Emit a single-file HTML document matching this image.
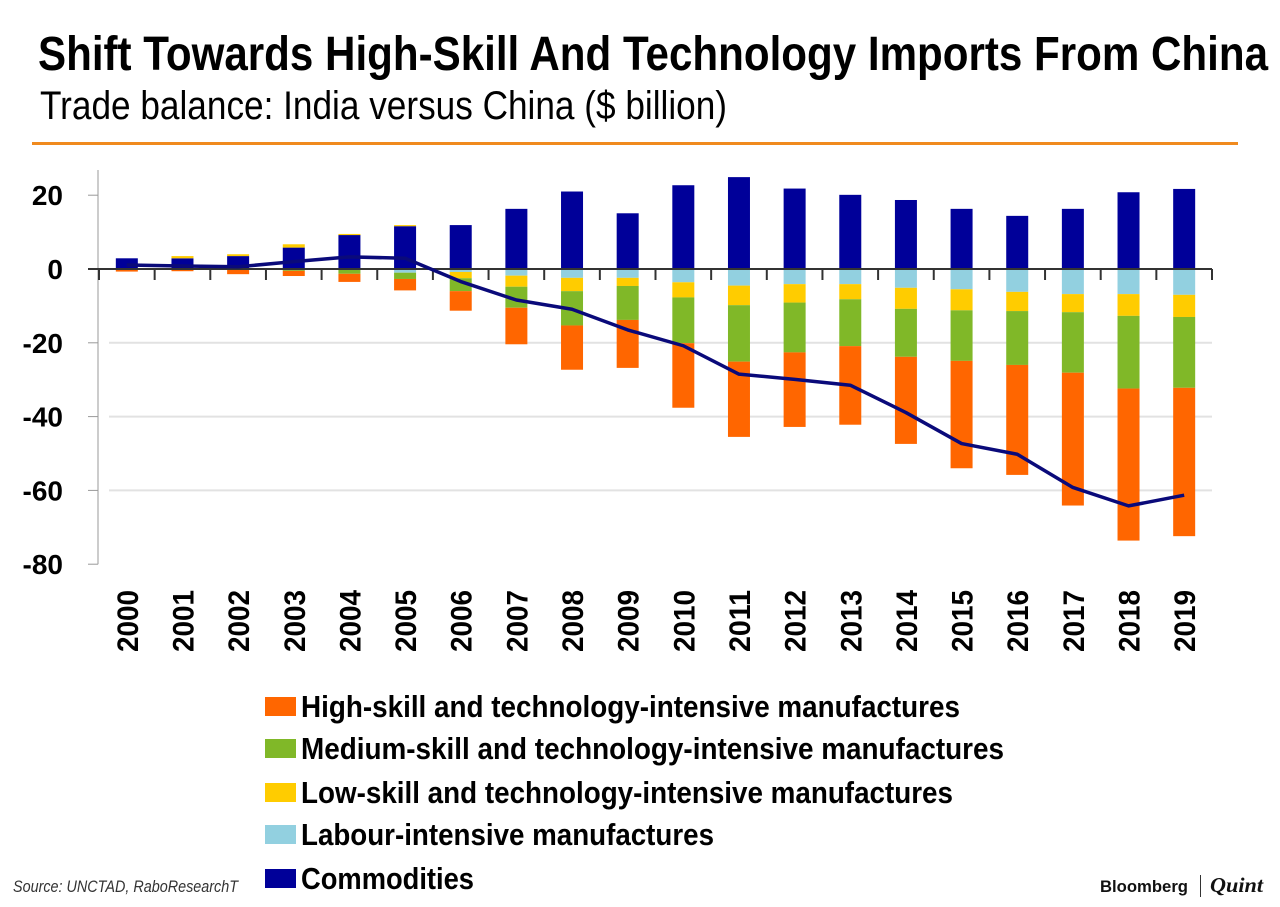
<!DOCTYPE html>
<html><head><meta charset="utf-8">
<style>
html,body{margin:0;padding:0;background:#fff;}
body{width:1280px;height:907px;overflow:hidden;font-family:"Liberation Sans Narrow","Liberation Sans",sans-serif;}
svg{display:block;}
</style></head>
<body>
<svg id="chart" width="1280" height="907" viewBox="0 0 1280 907">
  <text x="38" y="70" font-size="48" font-weight="bold" textLength="1230" lengthAdjust="spacingAndGlyphs" fill="#000">Shift Towards High-Skill And Technology Imports From China</text>
  <text x="40" y="119" font-size="40" textLength="687" lengthAdjust="spacingAndGlyphs" fill="#000">Trade balance: India versus China ($ billion)</text>
  <rect x="32" y="142" width="1206" height="3" fill="#F08A1E"/>
  <g id="grid"></g>
  <g id="bars"></g>
  <g id="axes"></g>
  <g id="line"></g>
  <g id="legend"></g>
  <text x="13" y="892" font-size="17" font-style="italic" fill="#333" textLength="225" lengthAdjust="spacingAndGlyphs">Source: UNCTAD, RaboResearchT</text>
  <text x="1100" y="892" font-family="Liberation Sans, sans-serif" font-size="17" font-weight="bold" textLength="88" lengthAdjust="spacingAndGlyphs" fill="#111">Bloomberg</text>
  <rect x="1200" y="875" width="1" height="22" fill="#333"/>
  <text x="1210" y="892" font-family="Liberation Serif, serif" font-size="21" font-style="italic" font-weight="bold" textLength="53" lengthAdjust="spacingAndGlyphs" fill="#111">Quint</text>
</svg>
<script>
const years = ["2000","2001","2002","2003","2004","2005","2006","2007","2008","2009","2010","2011","2012","2013","2014","2015","2016","2017","2018","2019"];
const commodities = [2.9,2.9,3.5,5.8,9.2,11.6,11.9,16.3,21.0,15.1,22.7,24.9,21.8,20.1,18.7,16.3,14.4,16.3,20.8,21.7];
const labour = [0,0,0,0,0,-1.0,-0.8,-1.8,-2.4,-2.4,-3.6,-4.5,-4.1,-4.1,-5.1,-5.5,-6.2,-6.8,-6.8,-7.0];
const lowSkill = [0,0.6,0.5,0.9,0.3,0.3,-1.7,-3.0,-3.6,-2.2,-4.1,-5.3,-5.0,-4.1,-5.7,-5.7,-5.2,-4.9,-5.9,-6.0];
const mediumSkill = [0,0,0,-0.5,-1.3,-1.7,-3.5,-5.7,-9.3,-9.2,-12.4,-15.3,-13.5,-12.7,-13.0,-13.7,-14.6,-16.4,-19.7,-19.2];
const highSkill = [-0.7,-0.6,-1.4,-1.4,-2.2,-3.1,-5.3,-9.9,-12.0,-13.0,-17.5,-20.4,-20.2,-21.3,-23.6,-29.1,-29.8,-36.0,-41.2,-40.2];
const totalBalance = [1.1,0.8,0.6,2.0,3.3,2.9,-3.4,-8.4,-10.9,-16.5,-20.8,-28.5,-29.9,-31.5,-38.9,-47.3,-50.2,-59.2,-64.2,-61.3];
const yTicks = [20,0,-20,-40,-60,-80];
const gridValues = [-20,-40,-60];
const legendLabels = ["High-skill and technology-intensive manufactures","Medium-skill and technology-intensive manufactures","Low-skill and technology-intensive manufactures","Labour-intensive manufactures","Commodities"];

const NS="http://www.w3.org/2000/svg";
const X0=99, BAND=55.65, BARW=22, Y0=269, K=3.69;
const xc=i=>X0+BAND*(i+0.5);
const y=v=>Y0-v*K;
function mk(tag,attrs,parent){const e=document.createElementNS(NS,tag);for(const k in attrs)e.setAttribute(k,attrs[k]);parent.appendChild(e);return e;}
const grid=document.getElementById('grid'),bars=document.getElementById('bars'),axes=document.getElementById('axes'),lineG=document.getElementById('line'),legend=document.getElementById('legend');

gridValues.forEach(v=>{
  const g=mk('line',{x1:X0+10,x2:X0+BAND*20,y1:y(v),y2:y(v),stroke:'#e2e2e2','stroke-width':2},grid);
  
  
});

const colors={high:'#FF6600',med:'#80B828',low:'#FFCC00',lab:'#92D0E0',comm:'#000099'};
years.forEach((yr,i)=>{
  let pos=0,neg=0;
  const segs=[['comm',commodities[i]],['lab',labour[i]],['low',lowSkill[i]],['med',mediumSkill[i]],['high',highSkill[i]]];
  segs.forEach(([key,v])=>{
    if(!v)return;
    let top,bot;
    if(v>0){bot=pos;pos+=v;top=pos;}else{top=neg;neg+=v;bot=neg;}
    const r=mk('rect',{x:xc(i)-BARW/2,y:y(top),width:BARW,height:(top-bot)*K,fill:colors[key]},bars);
    
    
  });
});

const ya=mk('line',{x1:98,x2:98,y1:170,y2:y(-80),stroke:'#999','stroke-width':1},axes);


yTicks.forEach(v=>{
  mk('line',{x1:88,x2:98,y1:y(v),y2:y(v),stroke:'#999','stroke-width':1},axes);
  const t=mk('text',{x:63,y:y(v)+10,'text-anchor':'end','font-size':28,'font-weight':'bold',fill:'#000'},axes);
  t.textContent=String(v);
  
  
});
const xa=mk('line',{x1:88,x2:X0+BAND*20,y1:Y0,y2:Y0,stroke:'#333','stroke-width':2},axes);


for(let i=0;i<=20;i++){mk('line',{x1:X0+BAND*i,x2:X0+BAND*i,y1:Y0,y2:Y0+11,stroke:'#333','stroke-width':2},axes);}
years.forEach((yr,i)=>{
  const t=mk('text',{x:0,y:0,'font-size':30,'font-weight':'bold',fill:'#000',textLength:62,lengthAdjust:'spacingAndGlyphs',transform:`translate(${xc(i)+11},652) rotate(-90)`},axes);
  t.textContent=yr;
  
  
});

const pts=totalBalance.map((v,i)=>xc(i)+','+y(v)).join(' ');
const pl=mk('polyline',{points:pts,fill:'none',stroke:'#0a0a7a','stroke-width':3.5,'stroke-linejoin':'round'},lineG);



const legColors=[colors.high,colors.med,colors.low,colors.lab,colors.comm];
const legY=[706,748,792,834,878];
const legW=[659,703,652,413,173];
legendLabels.forEach((lab,i)=>{
  const g=mk('g',{},legend);
  
  
  mk('rect',{x:265,y:legY[i]-9,width:31,height:19,fill:legColors[i]},g);
  const t=mk('text',{x:301,y:legY[i]+11,'font-size':31,'font-weight':'bold',fill:'#000',textLength:legW[i],lengthAdjust:'spacingAndGlyphs'},g);
  t.textContent=lab;
});
</script>
</body></html>
